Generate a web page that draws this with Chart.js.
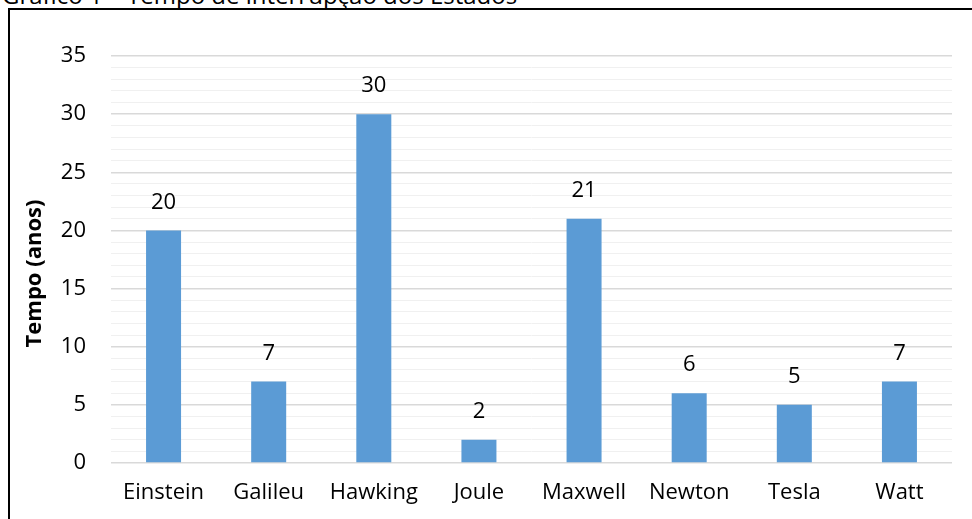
<!DOCTYPE html>
<html lang="pt">
<head>
<meta charset="utf-8">
<title>Gráfico 1 – Tempo de interrupção dos Estados</title>
<script src="https://cdn.jsdelivr.net/npm/chart.js@4/dist/chart.umd.min.js"></script>
<style>
	html, body { margin: 0; padding: 0; background: #fff; overflow: hidden; }
	#wrap { position: relative; width: 972px; height: 519px; }
	#titulo {
		position: absolute; left: 2px; top: -17px;
		font: 24px/24px 'Open Sans', sans-serif; color: #000; white-space: nowrap;
	}
	#moldura {
		position: absolute; left: 8px; top: 8px; width: 1000px; height: 600px;
		border-left: 2px solid #000; border-top: 2px solid #000;
	}
	canvas { position: absolute; left: 0; top: 0; }
</style>
</head>
<body>
<div id="wrap">
	<div id="titulo">Gráfico 1 – Tempo de interrupção dos Estados</div>
	<div id="moldura"></div>
	<canvas id="tempo" width="972" height="519"></canvas>
</div>
<script>
// Gather chart
const tempo = document.getElementById('tempo');

// Categorias e valores
const cientistas = ['Einstein', 'Galileu', 'Hawking', 'Joule', 'Maxwell', 'Newton', 'Tesla', 'Watt'];
const anos = [20, 7, 30, 2, 21, 6, 5, 7];
const eixoMax = 35;
const tituloY = 'Tempo (anos)';

// Estilo
const fonte = "'Open Sans', sans-serif";
const corBarra = '#5b9bd5';
const gradeMaior = '#d9d9d9';
const gradeMenor = '#f0f0f0';

// Valor escrito acima de cada barra, e o título do eixo y
const rotulos = {
	id: 'rotulos',
	afterDatasetsDraw(chart) {
		const ctx = chart.ctx;
		const meta = chart.getDatasetMeta(0);
		ctx.save();
		ctx.font = '22px ' + fonte;
		ctx.fillStyle = '#000';
		ctx.textAlign = 'center';
		ctx.textBaseline = 'middle';
		meta.data.forEach((bar, i) => {
			ctx.fillText(String(anos[i]), bar.x, bar.y - 28);
		});

		// título do eixo, um pouco abaixo do centro da área
		const area = chart.chartArea;
		ctx.translate(35, (area.top + area.bottom) / 2 + 14);
		ctx.rotate(-Math.PI / 2);
		ctx.font = 'bold 22px ' + fonte;
		ctx.fillText(tituloY, 0, 0);
		ctx.restore();
	}
};

const tempoChart = new Chart(tempo, {
	type: 'bar',
	data: {
		labels: cientistas,
		datasets: [
			{
				label: 'Tempo',
				data: anos,
				backgroundColor: corBarra,
				barPercentage: 1,
				categoryPercentage: 0.333
			}
		]
	},
	options: {
		responsive: false,
		animation: false,
		layout: { padding: { left: 20, top: 56, right: 20, bottom: 0 } },
		plugins: {
			legend: { display: false },
			tooltip: { enabled: false }
		},
		scales: {
			x: {
				grid: { display: false, drawTicks: false },
				border: { display: false },
				ticks: { color: '#000', padding: 17, font: { family: fonte, size: 22 } },
				afterFit(scale) { scale.height = 56; }
			},
			y: {
				min: 0,
				max: eixoMax,
				grid: {
					drawTicks: false,
					color: c => (c.tick.value % 5 === 0 ? gradeMaior : gradeMenor),
					lineWidth: c => (c.tick.value % 5 === 0 ? 1.5 : 1)
				},
				border: { display: false },
				ticks: {
					stepSize: 1,
					autoSkip: false,
					padding: 25,
					color: '#000',
					font: { family: fonte, size: 22 },
					// '' mantém a linha de grade menor sem rótulo
					callback: v => (v % 5 === 0 ? v : '')
				},
				afterFit(scale) { scale.width = 91; }
			}
		}
	},
	plugins: [rotulos]
});
</script>
</body>
</html>
